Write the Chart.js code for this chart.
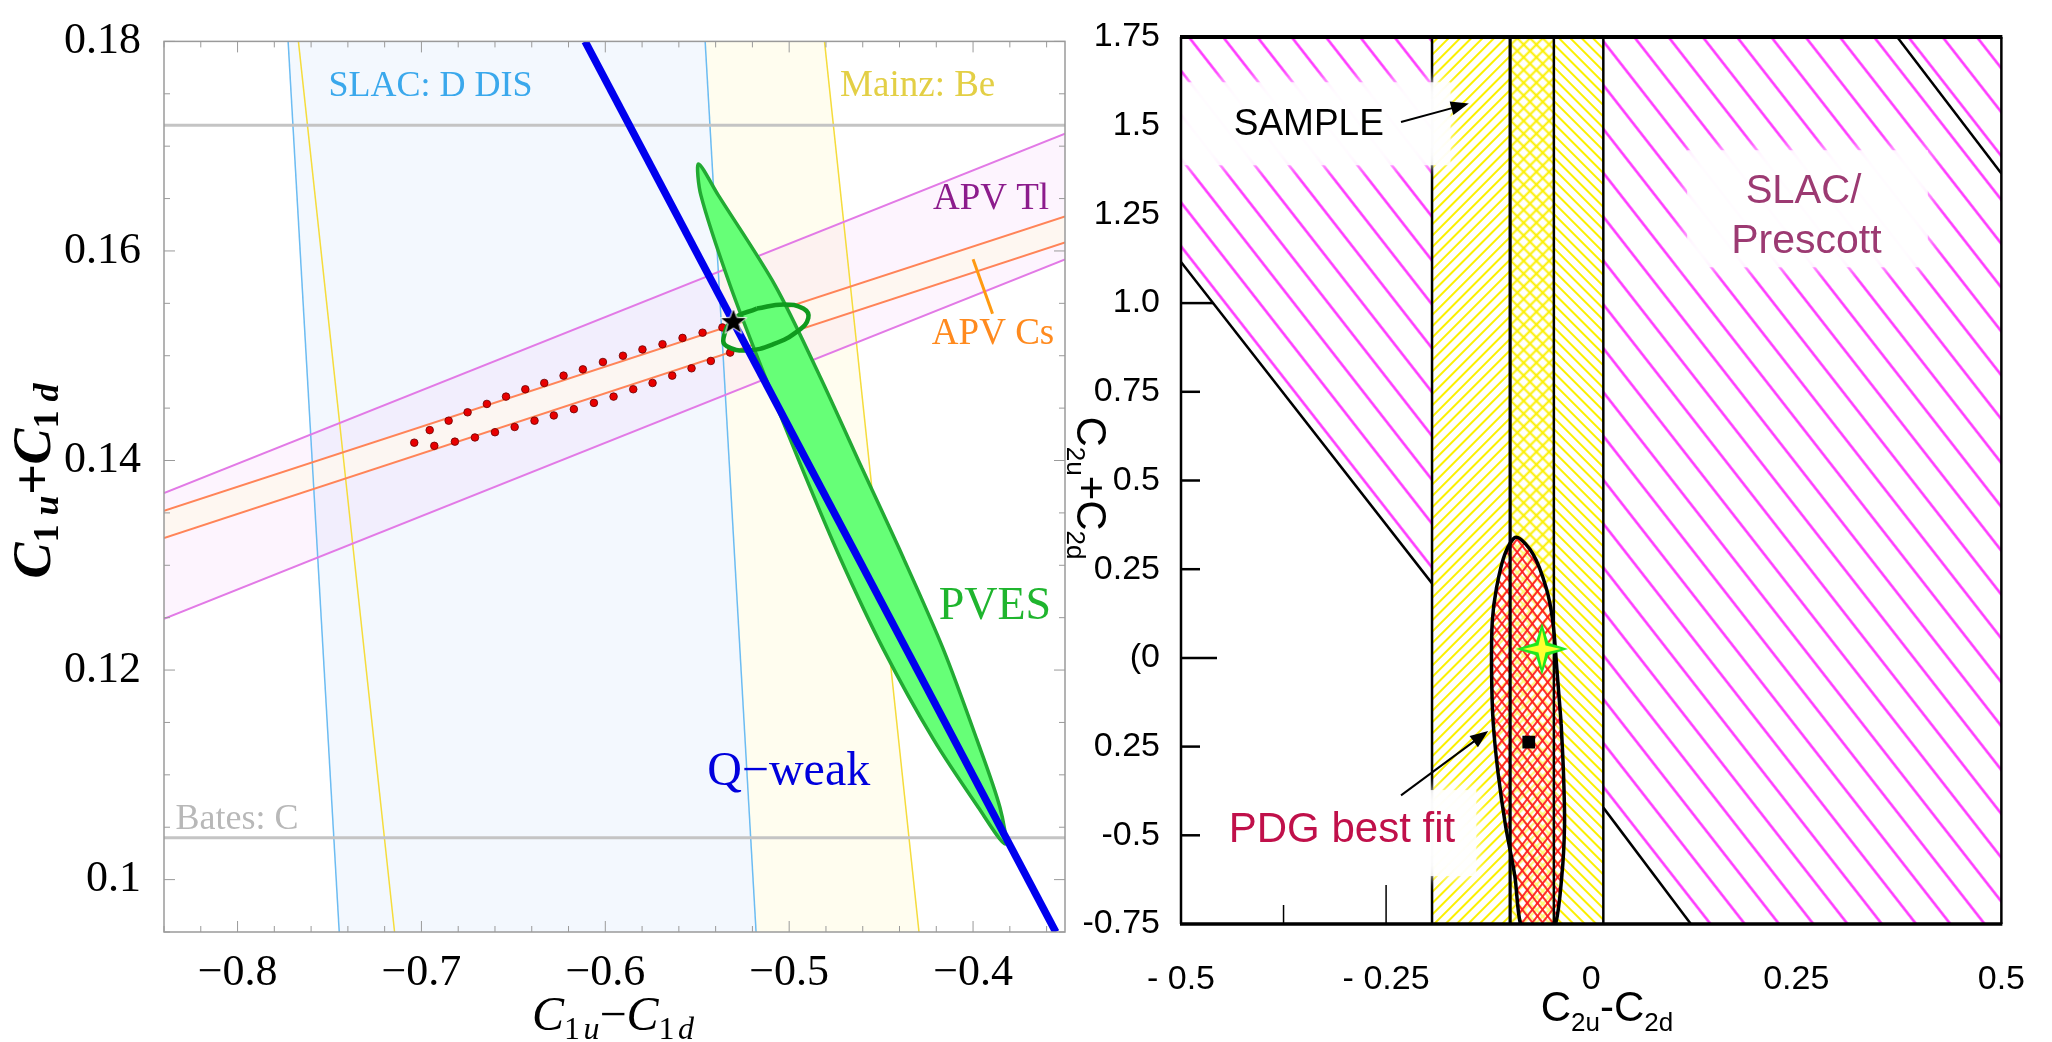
<!DOCTYPE html>
<html>
<head>
<meta charset="utf-8">
<script src="https://cdn.jsdelivr.net/npm/chart.js@4.4.1/dist/chart.umd.min.js"></script>
<style>
  body { margin: 0; background: #fff; width: 2052px; height: 1042px; overflow: hidden; position: relative; }
  canvas { position: absolute; top: 0; }
  #left { left: 0; width: 1100px; height: 1042px; }
  #right { left: 1040px; width: 1012px; height: 1042px; }
</style>
</head>
<body>
<canvas id="left" width="1100" height="1042"></canvas>
<canvas id="right" width="1012" height="1042"></canvas>
<script>
// ---------- left panel: C1u-C1d vs C1u+C1d ----------
const leftXRange = [-0.84, -0.35];
const leftYRange = [0.095, 0.18];
const leftXTicks = [-0.8, -0.7, -0.6, -0.5, -0.4];
const leftXTickLabels = ['−0.8', '−0.7', '−0.6', '−0.5', '−0.4'];
const leftYTicks = [0.1, 0.12, 0.14, 0.16, 0.18];
const leftYTickLabels = ['0.1', '0.12', '0.14', '0.16', '0.18'];

// vertical-ish bands, x at top (0.18) and bottom (0.095)
const bandEdgeY = [0.18, 0.095];
const slacLeftX = [-0.7725, -0.7447];
const slacRightX = [-0.5457, -0.518];
const mainzLeftX = [-0.7669, -0.7146];
const mainzRightX = [-0.4808, -0.4294];

// atomic parity violation bands, y at left and right edge
const apvEdgeX = [-0.84, -0.35];
const tlUpperY = [0.1369, 0.1712];
const tlLowerY = [0.1249, 0.1592];
const csUpperY = [0.1352, 0.1633];
const csLowerY = [0.1326, 0.1608];
const csTickX = [-0.4, -0.3894];
const csTickY = [0.1592, 0.154];

// Bates: C
const batesY = [0.172, 0.104];

// Q-weak line
const qweakX = [-0.611, -0.355];
const qweakY = [0.18, 0.095];

// PVES ellipse outline
const pvesX = [-0.4605, -0.4379, -0.4162, -0.398, -0.3854, -0.3826, -0.3972, -0.4216, -0.4488, -0.4723,
               -0.4931, -0.5131, -0.5321, -0.548, -0.5493, -0.5385, -0.5076, -0.4832, -0.4605];
const pvesY = [0.1393, 0.1307, 0.122, 0.1134, 0.1069, 0.1034, 0.1069, 0.1134, 0.122, 0.1307,
               0.1393, 0.148, 0.1567, 0.1653, 0.1683, 0.1653, 0.1567, 0.148, 0.1393];

// small combined-fit ring
const ringX = [-0.5176, -0.5031, -0.4923, -0.4896, -0.495, -0.5086, -0.523, -0.5339, -0.5357, -0.5303, -0.5176];
const ringY = [0.1545, 0.1549, 0.1545, 0.1536, 0.1524, 0.1511, 0.1505, 0.1509, 0.1517, 0.1535, 0.1545];

// red dotted contour
const dotsX = [-0.6955, -0.6852, -0.6749, -0.6644, -0.654, -0.6435, -0.6332, -0.6227, -0.6122, -0.6013,
               -0.5904, -0.5798, -0.5689, -0.558, -0.5471, -0.5363,
               -0.7039, -0.693, -0.6818, -0.6709, -0.66, -0.6493, -0.6385, -0.628, -0.6171, -0.6062,
               -0.5955, -0.5848, -0.5743, -0.5636, -0.5531, -0.5426, -0.5321];
const dotsY = [0.1429, 0.1438, 0.1446, 0.1454, 0.1461, 0.1468, 0.1474, 0.1481, 0.1487, 0.1494,
               0.15, 0.1506, 0.1511, 0.1517, 0.1522, 0.1527,
               0.1417, 0.1414, 0.1418, 0.1422, 0.1427, 0.1432, 0.1438, 0.1443, 0.1449, 0.1455,
               0.1461, 0.1468, 0.1474, 0.1481, 0.1488, 0.1495, 0.1503];

// Standard Model point
const smLeftX = [-0.5303];
const smLeftY = [0.1533];

// ---------- right panel: C2u-C2d vs C2u+C2d ----------
const rightXRange = [-0.5, 0.5];
const rightYRange = [-0.75, 1.75];
const rightXTicks = [-0.5, -0.25, 0, 0.25, 0.5];
const rightXTickLabels = ['- 0.5', '- 0.25', '0', '0.25', '0.5'];
const rightYTicks = [1.75, 1.5, 1.25, 1.0, 0.75, 0.5, 0.25, 0, -0.25, -0.5, -0.75];
const rightYTickLabels = ['1.75', '1.5', '1.25', '1.0', '0.75', '0.5', '0.25', '(0', '0.25', '-0.5', '-0.75'];
const rightYMarks = [1.0, 0.75, 0.5, 0.25, 0, -0.25, -0.5];
const rightXMarks = [-0.375, -0.25];

// SAMPLE band boundaries
const sampleEdgesX = [-0.194, -0.0988, -0.0455, 0.0148];

// SLAC/Prescott allowed regions and their boundaries
const slacLeftRegionX = [-0.5, -0.194, -0.194, -0.5];
const slacLeftRegionY = [1.75, 1.75, 0.21, 1.116];
const slacRightRegionX = [0.0148, 0.5, 0.5, 0.1215, 0.0148];
const slacRightRegionY = [1.75, 1.75, -0.75, -0.75, -0.422];
const boundLeftX = [-0.5, -0.194];
const boundLeftY = [1.116, 0.21];
const boundLowX = [0.0148, 0.1215];
const boundLowY = [-0.422, -0.75];
const boundUpX = [0.373, 0.5];
const boundUpY = [1.75, 1.365];

// PDG best fit ellipse outline
const pdgX = [-0.0366, -0.0337, -0.0325, -0.0358, -0.0446, -0.065, -0.0851, -0.0931, -0.1045, -0.1133,
              -0.1194, -0.1214, -0.1206, -0.1154, -0.1052, -0.0911, -0.0709, -0.0548, -0.0467, -0.0415, -0.0366];
const pdgY = [-0.1849, -0.328, -0.4715, -0.6146, -0.76, -0.83, -0.76, -0.6146, -0.4715, -0.328,
              -0.1849, -0.0415, 0.1016, 0.1972, 0.2927, 0.34, 0.2927, 0.1972, 0.1016, -0.0415, -0.1849];

const smRightX = [-0.06];
const smRightY = [0.0253];
const bestFitX = [-0.0761];
const bestFitY = [-0.2373];

// arrows: tail x, tail y, head x, head y
const sampleArrow = [-0.2318, 1.5105, -0.1491, 1.5623];
const pdgArrow = [-0.2318, -0.3875, -0.1255, -0.2058];

const leftNotes = [
  {text: 'SLAC: D DIS', x: -0.7506, y: 0.1748, color: '#3aa8ec', size: 36},
  {text: 'Mainz: Be', x: -0.4723, y: 0.1748, color: '#e3cf45', size: 37},
  {text: 'APV Tl', x: -0.4218, y: 0.164, color: '#8c1c8c', size: 37},
  {text: 'APV Cs', x: -0.4224, y: 0.1511, color: '#ff8a1e', size: 37},
  {text: 'PVES', x: -0.4187, y: 0.1249, color: '#1fb52e', size: 46},
  {text: 'Q−weak', x: -0.5446, y: 0.109, color: '#0000dd', size: 48},
  {text: 'Bates: C', x: -0.8337, y: 0.1048, color: '#b8b8b8', size: 36}
];

const rightNotes = [
  {text: 'SAMPLE', x: -0.3442, y: 1.473, color: '#000', size: 37, align: 'center'},
  {text: 'SLAC/', x: 0.2588, y: 1.2823, color: '#9c3a72', size: 40, align: 'center'},
  {text: 'Prescott', x: 0.2624, y: 1.1405, color: '#9c3a72', size: 41, align: 'center'},
  {text: 'PDG best fit', x: -0.4418, y: -0.519, color: '#c0104a', size: 42, align: 'left'}
];

// white boxes behind the right panel labels
const rightBoxes = [
  {x0: -0.5, x1: -0.1715, y0: 1.6224, y1: 1.3885},
  {x0: 0.117, x1: 0.4103, y0: 1.4308, y1: 1.101},
  {x0: -0.4503, x1: -0.14, y0: -0.3726, y1: -0.615}
];

/**
 * Zip x and y arrays into point objects.
 */
const pts = (xs, ys) => xs.map((x, i) => ({x, y: ys[i]}));

function lineSet(data, color, width, extra) {
  return Object.assign({data, showLine: true, fill: false, borderColor: color, borderWidth: width,
    pointRadius: 0, tension: 0}, extra || {});
}

function areaSet(data, bg, extra) {
  return Object.assign({data, showLine: true, fill: 'shape', backgroundColor: bg,
    borderColor: 'rgba(0,0,0,0)', borderWidth: 0, pointRadius: 0, tension: 0}, extra || {});
}

/**
 * Striped fill pattern rotated to the given angle (degrees).
 */
function hatch(color, gap, lw, angle, bg) {
  const c = document.createElement('canvas');
  c.width = gap; c.height = gap;
  const g = c.getContext('2d');
  if (bg) { g.fillStyle = bg; g.fillRect(0, 0, gap, gap); }
  g.fillStyle = color;
  g.fillRect(0, (gap - lw) / 2, gap, lw);
  const p = g.createPattern(c, 'repeat');
  p.setTransform(new DOMMatrix().rotateSelf(angle));
  return p;
}

function starImage(size) {
  const c = document.createElement('canvas');
  c.width = c.height = size;
  const g = c.getContext('2d');
  const cx = size / 2, cy = size / 2 + 1, r = size / 2 - 2, r2 = r * 0.42;
  g.beginPath();
  for (let i = 0; i < 10; i++) {
    const rad = i % 2 ? r2 : r;
    const a = -Math.PI / 2 + i * Math.PI / 5;
    g.lineTo(cx + rad * Math.cos(a), cy + rad * Math.sin(a));
  }
  g.closePath();
  g.fillStyle = '#000'; g.fill();
  g.strokeStyle = '#fff'; g.lineWidth = 1; g.stroke();
  return c;
}

function sparkleImage(size) {
  const c = document.createElement('canvas');
  c.width = c.height = size;
  const g = c.getContext('2d');
  const cx = size / 2, cy = size / 2;
  const draw = (r, w, color) => {
    g.beginPath();
    for (let i = 0; i < 8; i++) {
      const rad = i % 2 ? w : r;
      const a = -Math.PI / 2 + i * Math.PI / 4;
      g.lineTo(cx + rad * Math.cos(a), cy + rad * Math.sin(a));
    }
    g.closePath(); g.fillStyle = color; g.fill();
  };
  draw(size / 2 - 1, 9, '#1ee81e');
  draw(size / 2 - 8, 5, '#ffff30');
  return c;
}

function seg(ctx, x1, y1, x2, y2) {
  ctx.beginPath(); ctx.moveTo(x1, y1); ctx.lineTo(x2, y2); ctx.stroke();
}

function arrow(ctx, x1, y1, x2, y2) {
  const ang = Math.atan2(y2 - y1, x2 - x1), h = 18, w = 7;
  seg(ctx, x1, y1, x2 - h * 0.7 * Math.cos(ang), y2 - h * 0.7 * Math.sin(ang));
  ctx.beginPath();
  ctx.moveTo(x2, y2);
  ctx.lineTo(x2 - h * Math.cos(ang) + w * Math.sin(ang), y2 - h * Math.sin(ang) - w * Math.cos(ang));
  ctx.lineTo(x2 - h * Math.cos(ang) - w * Math.sin(ang), y2 - h * Math.sin(ang) + w * Math.cos(ang));
  ctx.closePath(); ctx.fill();
}

/**
 * Draw a run of text pieces (for subscripts), centred on x, y.
 */
function drawRich(ctx, parts, x, y, angle) {
  ctx.save();
  ctx.translate(x, y);
  ctx.rotate(angle);
  ctx.textAlign = 'left'; ctx.textBaseline = 'alphabetic'; ctx.fillStyle = '#000';
  let total = 0;
  parts.forEach(p => { ctx.font = p.font; p.w = ctx.measureText(p.t).width; total += p.w; });
  let cx = -total / 2;
  parts.forEach(p => { ctx.font = p.font; ctx.fillText(p.t, cx, p.dy || 0); cx += p.w; });
  ctx.restore();
}

function drawNotes(chart, notes, family) {
  const {ctx, scales: {x, y}} = chart;
  notes.forEach(n => {
    ctx.font = n.size + 'px ' + family;
    ctx.fillStyle = n.color;
    ctx.textAlign = n.align || 'left';
    ctx.textBaseline = 'alphabetic';
    ctx.fillText(n.text, x.getPixelForValue(n.x), y.getPixelForValue(n.y));
  });
}

function orderSets(sets) {
  sets.forEach((d, i, arr) => { d.order = arr.length - i; });
  return sets;
}

// ---------- left chart ----------
const leftSets = orderSets([
  areaSet(pts([mainzLeftX[0], mainzRightX[0], mainzRightX[1], mainzLeftX[1]],
              [bandEdgeY[0], bandEdgeY[0], bandEdgeY[1], bandEdgeY[1]]), '#fffdef'),
  areaSet(pts([slacLeftX[0], slacRightX[0], slacRightX[1], slacLeftX[1]],
              [bandEdgeY[0], bandEdgeY[0], bandEdgeY[1], bandEdgeY[1]]), '#f3f8fe'),
  areaSet(pts([apvEdgeX[0], apvEdgeX[1], apvEdgeX[1], apvEdgeX[0]],
              [tlUpperY[0], tlUpperY[1], tlLowerY[1], tlLowerY[0]]), 'rgba(240,175,245,0.14)'),
  areaSet(pts([apvEdgeX[0], apvEdgeX[1], apvEdgeX[1], apvEdgeX[0]],
              [csUpperY[0], csUpperY[1], csLowerY[1], csLowerY[0]]), 'rgba(255,248,238,0.75)'),
  lineSet(pts(slacLeftX, bandEdgeY), '#6cbcf2', 1.5),
  lineSet(pts(slacRightX, bandEdgeY), '#6cbcf2', 1.5),
  lineSet(pts(mainzLeftX, bandEdgeY), '#f5dc3c', 1.5),
  lineSet(pts(mainzRightX, bandEdgeY), '#f5dc3c', 1.5),
  lineSet(pts(apvEdgeX, tlUpperY), '#e27ae6', 2),
  lineSet(pts(apvEdgeX, tlLowerY), '#e27ae6', 2),
  lineSet(pts(apvEdgeX, csUpperY), '#ff8458', 2),
  lineSet(pts(apvEdgeX, csLowerY), '#ff8458', 2),
  lineSet(pts(leftXRange, [batesY[0], batesY[0]]), '#c4c4c4', 3),
  lineSet(pts(leftXRange, [batesY[1], batesY[1]]), '#c4c4c4', 3),
  lineSet(pts(pvesX, pvesY), '#22aa33', 3.5, {fill: 'shape', backgroundColor: '#66ff77', tension: 0.3}),
  {data: pts(dotsX, dotsY), pointRadius: 3.8, backgroundColor: '#e80000', borderColor: '#6a0000', borderWidth: 0.8},
  lineSet(pts(ringX, ringY), '#109a1e', 4.5, {tension: 0.45}),
  lineSet(pts(qweakX, qweakY), '#0000ee', 7.5),
  lineSet(pts(csTickX, csTickY), '#ff9a10', 3),
  {data: pts(smLeftX, smLeftY), pointStyle: starImage(32), pointRadius: 10}
]);

const leftDecor = {
  id: 'leftDecor',
  afterDraw(chart) {
    const {ctx, chartArea: a, scales: {x, y}} = chart;
    ctx.save();
    ctx.strokeStyle = '#9a9a9a';
    ctx.lineWidth = 1.5;
    ctx.strokeRect(a.left, a.top, a.right - a.left, a.bottom - a.top);
    ctx.lineWidth = 1;
    for (let i = 0; ; i++) {
      const v = leftXRange[0] + i * 0.02;
      if (v > leftXRange[1] + 1e-9) break;
      const p = x.getPixelForValue(v);
      const len = Math.abs(v * 10 - Math.round(v * 10)) < 1e-6 ? 11 : 6;
      seg(ctx, p, a.bottom, p, a.bottom - len);
      seg(ctx, p, a.top, p, a.top + len);
    }
    for (let i = 0; ; i++) {
      const v = leftYRange[0] + i * 0.005;
      if (v > leftYRange[1] + 1e-9) break;
      const p = y.getPixelForValue(v);
      const len = Math.abs(v / 0.02 - Math.round(v / 0.02)) < 1e-6 ? 11 : 6;
      seg(ctx, a.left, p, a.left + len, p);
      seg(ctx, a.right, p, a.right - len, p);
    }
    drawNotes(chart, leftNotes, 'Liberation Serif');
    // x title: regular italic
    const xc = 'italic 48px Liberation Serif';
    const x1 = '32px Liberation Serif';
    const xs = 'italic 32px Liberation Serif';
    drawRich(ctx, [
      {t: 'C', font: xc}, {t: '1', font: x1, dy: 9}, {t: ' ', font: '14px Liberation Serif'}, {t: 'u', font: xs, dy: 9},
      {t: '−', font: '48px Liberation Serif'},
      {t: 'C', font: xc}, {t: '1', font: x1, dy: 9}, {t: ' ', font: '14px Liberation Serif'}, {t: 'd', font: xs, dy: 9}
    ], 613, 1030, 0);
    // y title: bold italic
    const big = 'bold italic 54px Liberation Serif';
    const one = 'bold 36px Liberation Serif';
    const sub = 'bold italic 36px Liberation Serif';
    drawRich(ctx, [
      {t: 'C', font: big}, {t: '1', font: one, dy: 8}, {t: ' ', font: one}, {t: 'u', font: sub, dy: 8},
      {t: '+', font: big},
      {t: 'C', font: big}, {t: '1', font: one, dy: 8}, {t: ' ', font: one}, {t: 'd', font: sub, dy: 8}
    ], 50, 481, -Math.PI / 2);
    ctx.restore();
  }
};

new Chart(document.getElementById('left'), {
  type: 'scatter',
  data: {datasets: leftSets},
  options: {
    responsive: false,
    animation: false,
    events: [],
    layout: {padding: {top: 30, right: 35, left: 0, bottom: 0}},
    plugins: {legend: {display: false}, tooltip: {enabled: false}},
    scales: {
      x: {
        type: 'linear', min: leftXRange[0], max: leftXRange[1],
        grid: {display: false}, border: {display: false},
        afterBuildTicks: s => { s.ticks = leftXTicks.map(v => ({value: v})); },
        afterFit: s => { s.height = 110; },
        ticks: {autoSkip: false, maxRotation: 0, minRotation: 0, padding: 7, color: '#000',
          font: {family: 'Liberation Serif', size: 44}, callback: (v, i) => leftXTickLabels[i]}
      },
      y: {
        type: 'linear', min: leftYRange[0], max: leftYRange[1],
        grid: {display: false}, border: {display: false},
        afterBuildTicks: s => { s.ticks = leftYTicks.map(v => ({value: v})); },
        afterFit: s => { s.width = 164; },
        ticks: {autoSkip: false, padding: 15, color: '#000',
          font: {family: 'Liberation Serif', size: 44}, callback: (v, i) => leftYTickLabels[i]}
      }
    }
  },
  plugins: [leftDecor]
});

// ---------- right chart ----------
const magenta = hatch('#ff2cff', 27, 2.4, 52);
const yellowUp = hatch('#fbf000', 8, 2, -45);
const yellowDown = hatch('#fbf000', 8, 2, 45);
const yellowCrossA = hatch('#fbf000', 9, 2, -45);
const yellowCrossB = hatch('#fbf000', 9, 2, 45);
const redA = hatch('#ff1a1a', 8, 1.8, -52, 'rgba(255,255,255,0.45)');
const redB = hatch('#ff1a1a', 8, 1.8, 52);

const strip = (x0, x1) => pts([x0, x1, x1, x0], [rightYRange[1], rightYRange[1], rightYRange[0], rightYRange[0]]);
const vline = vx => pts([vx, vx], rightYRange);

const rightSets = orderSets([
  areaSet(pts(slacLeftRegionX, slacLeftRegionY), magenta),
  areaSet(pts(slacRightRegionX, slacRightRegionY), magenta),
  areaSet(strip(sampleEdgesX[0], sampleEdgesX[1]), yellowUp),
  areaSet(strip(sampleEdgesX[1], sampleEdgesX[2]), yellowCrossA),
  areaSet(strip(sampleEdgesX[1], sampleEdgesX[2]), yellowCrossB),
  areaSet(strip(sampleEdgesX[2], sampleEdgesX[3]), yellowDown),
  areaSet(pts(pdgX, pdgY), redA, {tension: 0.3}),
  lineSet(pts(pdgX, pdgY), '#000', 3.5, {fill: 'shape', backgroundColor: redB, tension: 0.3}),
  lineSet(vline(sampleEdgesX[0]), '#000', 2.5),
  lineSet(vline(sampleEdgesX[1]), '#000', 3.2),
  lineSet(vline(sampleEdgesX[2]), '#000', 2.5),
  lineSet(vline(sampleEdgesX[3]), '#000', 2.5),
  lineSet(pts(boundLeftX, boundLeftY), '#000', 2.5),
  lineSet(pts(boundLowX, boundLowY), '#000', 2.5),
  lineSet(pts(boundUpX, boundUpY), '#000', 2.5),
  {data: pts(bestFitX, bestFitY), pointStyle: 'rect', pointRadius: 9, backgroundColor: '#000', borderWidth: 0},
  {data: pts(smRightX, smRightY), pointStyle: sparkleImage(54), pointRadius: 10}
]);

const rightDecor = {
  id: 'rightDecor',
  afterDraw(chart) {
    const {ctx, chartArea: a, scales: {x, y}} = chart;
    const P = (vx, vy) => [x.getPixelForValue(vx), y.getPixelForValue(vy)];
    ctx.save();
    // soft white boxes behind the labels
    ctx.save();
    ctx.beginPath(); ctx.rect(a.left, a.top, a.right - a.left, a.bottom - a.top); ctx.clip();
    ctx.shadowColor = '#fff'; ctx.shadowBlur = 14;
    ctx.fillStyle = 'rgba(255,255,255,0.88)';
    rightBoxes.forEach(b => {
      const [x1, y1] = P(b.x0, b.y0), [x2, y2] = P(b.x1, b.y1);
      ctx.fillRect(Math.min(x1, x2), Math.min(y1, y2), Math.abs(x2 - x1), Math.abs(y2 - y1));
    });
    ctx.restore();
    drawNotes(chart, rightNotes, 'Liberation Sans');
    ctx.strokeStyle = '#000'; ctx.fillStyle = '#000'; ctx.lineWidth = 2;
    [sampleArrow, pdgArrow].forEach(r => {
      const [x1, y1] = P(r[0], r[1]), [x2, y2] = P(r[2], r[3]);
      arrow(ctx, x1, y1, x2, y2);
    });
    // frame
    ctx.lineWidth = 2.5;
    seg(ctx, a.left, a.top, a.left, a.bottom);
    seg(ctx, a.right, a.top, a.right, a.bottom);
    ctx.lineWidth = 4;
    seg(ctx, a.left - 1, a.top, a.right + 1, a.top);
    ctx.lineWidth = 3.5;
    seg(ctx, a.left - 1, a.bottom, a.right + 1, a.bottom);
    // tick marks
    ctx.lineWidth = 2.5;
    rightYMarks.forEach(v => {
      const p = y.getPixelForValue(v);
      seg(ctx, a.left, p, a.left + (v === 0 ? 36 : v === 1 ? 32 : 19), p);
    });
    ctx.lineWidth = 1.5;
    rightXMarks.forEach((v, i) => {
      const p = x.getPixelForValue(v);
      seg(ctx, p, a.bottom, p, a.bottom - (i === 0 ? 19 : 39));
    });
    // axis titles
    const big = '42px Liberation Sans';
    const sub = '26px Liberation Sans';
    drawRich(ctx, [
      {t: 'C', font: big}, {t: '2u', font: sub, dy: 10}, {t: '-', font: big},
      {t: 'C', font: big}, {t: '2d', font: sub, dy: 10}
    ], 567, 1021, 0);
    drawRich(ctx, [
      {t: 'C', font: big}, {t: '2u', font: sub, dy: 10}, {t: '+', font: big},
      {t: 'C', font: big}, {t: '2d', font: sub, dy: 10}
    ], 37, 488, Math.PI / 2);
    ctx.restore();
  }
};

new Chart(document.getElementById('right'), {
  type: 'scatter',
  data: {datasets: rightSets},
  options: {
    responsive: false,
    animation: false,
    events: [],
    layout: {padding: {top: 37, right: 46.5, left: 0, bottom: 0}},
    plugins: {legend: {display: false}, tooltip: {enabled: false}},
    scales: {
      x: {
        type: 'linear', min: rightXRange[0], max: rightXRange[1],
        grid: {display: false}, border: {display: false},
        afterBuildTicks: s => { s.ticks = rightXTicks.map(v => ({value: v})); },
        afterFit: s => { s.height = 118; },
        ticks: {autoSkip: false, maxRotation: 0, minRotation: 0, padding: 27, color: '#000',
          font: {family: 'Liberation Sans', size: 34}, callback: (v, i) => rightXTickLabels[i]}
      },
      y: {
        type: 'linear', min: rightYRange[0], max: rightYRange[1],
        grid: {display: false}, border: {display: false},
        afterBuildTicks: s => { s.ticks = rightYTicks.map(v => ({value: v})); },
        afterFit: s => { s.width = 141; },
        ticks: {autoSkip: false, padding: 13, color: '#000',
          font: {family: 'Liberation Sans', size: 34}, callback: (v, i) => rightYTickLabels[i]}
      }
    }
  },
  plugins: [rightDecor]
});
</script>
</body>
</html>
